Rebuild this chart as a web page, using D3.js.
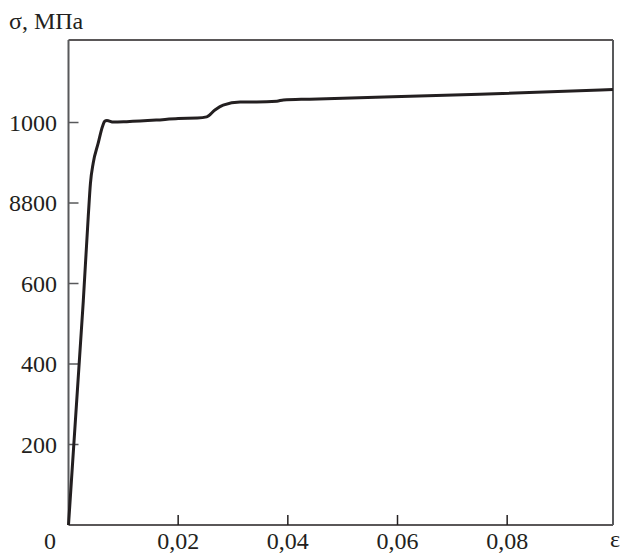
<!DOCTYPE html>
<html>
<head>
<meta charset="utf-8">
<script src="https://cdn.jsdelivr.net/npm/d3@7"></script>
</head>
<body style="margin:0">
<div id="chart"></div>
<script>
// strain (eps) and stress (MPa)
let strain = [0, 0.0027, 0.0036, 0.0040, 0.0045, 0.0054, 0.0062, 0.0066, 0.0070, 0.0082, 0.0106, 0.016, 0.020, 0.0235, 0.0252, 0.0267, 0.0282, 0.0313, 0.0343, 0.038, 0.0392, 0.044, 0.075, 0.0993]
let stress = [0, 557, 766, 849, 899, 948, 990, 1003, 1005, 1001, 1002, 1006, 1010, 1011, 1014, 1031, 1043, 1051, 1051, 1053, 1056, 1058, 1070, 1082]

let yTicks = [200, 400, 600, 800, 1000]
let yTickLabels = ["200", "400", "600", "8800", "1000"]
let xTicks = [0.02, 0.04, 0.06, 0.08]
let xTickLabels = ["0,02", "0,04", "0,06", "0,08"]

let width = 620
let height = 554
let plotLeft = 68.5, plotRight = 613, plotTop = 40, plotBottom = 525
let ink = "#231f20"

let x = d3.scaleLinear().domain([0, 0.0993]).range([plotLeft, plotRight])
let y = d3.scaleLinear().domain([0, 1205]).range([plotBottom, plotTop])

let svg = d3.select("#chart").append("svg")
  .attr("width", width)
  .attr("height", height)
  .attr("font-family", "Liberation Serif")

// all labels go through here
function label(sel) {
  return sel.attr("font-size", 24)
    .attr("font-family", "Liberation Serif")
    .style("font-family", "'Liberation Serif'")
    .attr("fill", ink)
}

// frame
svg.append("line").attr("x1", plotLeft).attr("x2", plotRight).attr("y1", plotTop).attr("y2", plotTop)
  .attr("stroke", ink).attr("stroke-width", 1.5)
svg.append("line").attr("x1", plotLeft).attr("x2", plotRight).attr("y1", plotBottom).attr("y2", plotBottom)
  .attr("stroke", ink).attr("stroke-width", 1.5)
svg.append("line").attr("x1", plotLeft).attr("x2", plotLeft).attr("y1", plotTop).attr("y2", plotBottom)
  .attr("stroke", "#58595b").attr("stroke-width", 2)
svg.append("line").attr("x1", plotRight).attr("x2", plotRight).attr("y1", plotTop).attr("y2", plotBottom)
  .attr("stroke", "#58595b").attr("stroke-width", 2)

// y ticks
svg.selectAll(".ytick").data(yTicks).enter().append("line")
  .attr("x1", plotLeft).attr("x2", plotLeft + 10)
  .attr("y1", d => y(d)).attr("y2", d => y(d))
  .attr("stroke", "#58595b").attr("stroke-width", 1.5)

svg.selectAll(".ylab").data(yTicks).enter().append("text")
  .attr("x", 57)
  .attr("y", d => y(d) + 8)
  .attr("text-anchor", "end")
  .call(label)
  .text((d, i) => yTickLabels[i])

// x ticks
svg.selectAll(".xtick").data(xTicks).enter().append("line")
  .attr("x1", d => x(d)).attr("x2", d => x(d))
  .attr("y1", plotBottom).attr("y2", plotBottom - 10)
  .attr("stroke", ink).attr("stroke-width", 1.5)

svg.selectAll(".xlab").data(xTicks).enter().append("text")
  .attr("x", d => x(d))
  .attr("y", 549)
  .attr("text-anchor", "middle")
  .call(label)
  .text((d, i) => xTickLabels[i])

svg.append("text").attr("x", 50).attr("y", 549).attr("text-anchor", "middle")
  .call(label).text("0")
svg.append("text").attr("x", 615).attr("y", 547).attr("text-anchor", "middle")
  .call(label).text("ε")
svg.append("text").attr("x", 9).attr("y", 29)
  .call(label).text("σ, МПа")

// curve
let pts = strain.map((s, i) => [s, stress[i]])
let line = d3.line()
  .x(d => x(d[0]))
  .y(d => y(d[1]))
  .curve(d3.curveMonotoneX)

svg.append("path")
  .datum(pts)
  .attr("d", line)
  .attr("fill", "none")
  .attr("stroke", ink)
  .attr("stroke-width", 3)
  .attr("stroke-linejoin", "round")
</script>
</body>
</html>
